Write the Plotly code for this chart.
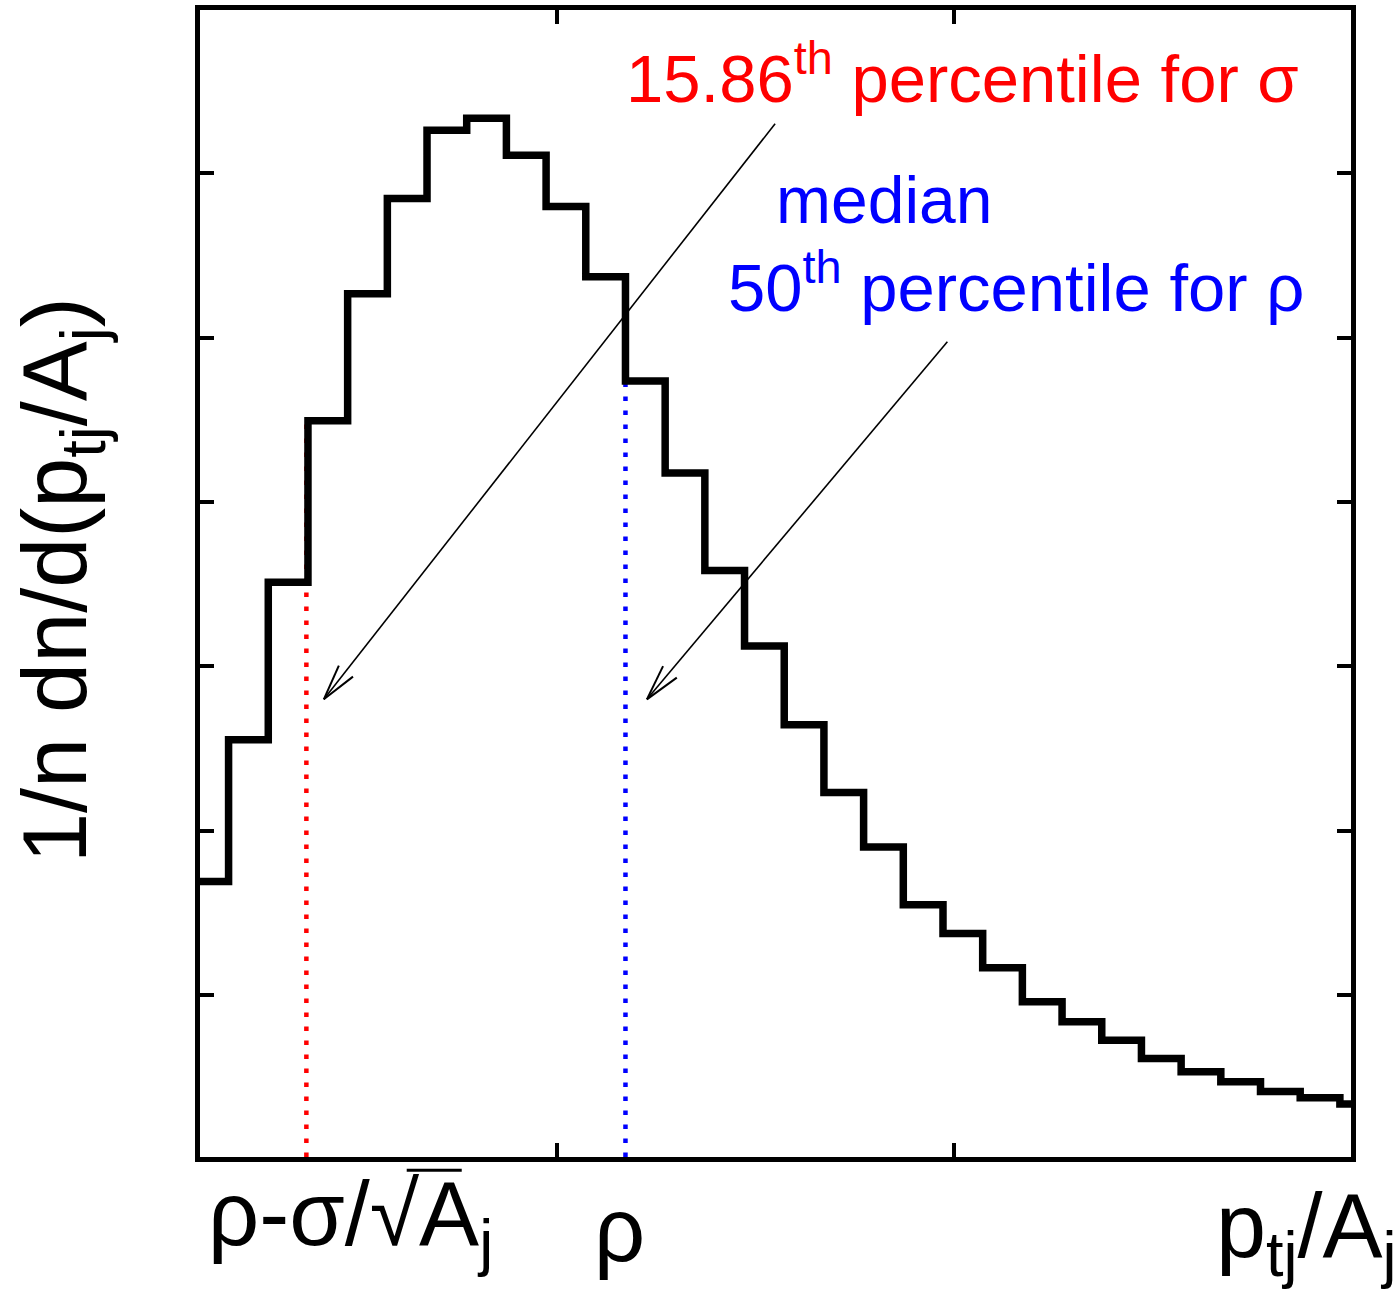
import math
import plotly.graph_objects as go

# histogram of p_tj/A_j (left bin edges, bin width 0.1) and normalised counts
bin_left = [0.072, 0.172, 0.272, 0.372, 0.472, 0.572, 0.672, 0.772, 0.872, 0.972,
            1.072, 1.172, 1.272, 1.372, 1.472, 1.572, 1.672, 1.772, 1.872, 1.972,
            2.072, 2.172, 2.272, 2.372, 2.472, 2.572, 2.672, 2.772, 2.872, 2.972]
density = [1.692, 2.554, 3.512, 4.494, 5.267, 5.847, 6.262, 6.335, 6.109, 5.798,
           5.370, 4.736, 4.176, 3.583, 3.124, 2.645, 2.233, 1.902, 1.551, 1.376,
           1.167, 0.961, 0.838, 0.726, 0.615, 0.535, 0.474, 0.414, 0.377, 0.339]
bin_width = 0.1

sigma_pos = 0.368   # 15.86th percentile
rho_pos = 1.172     # median

xtick_vals = [1, 2]
ytick_vals = [1, 2, 3, 4, 5, 6]

# arrows: (tail x, tail y, tip x, tip y)
arrows = [(1.549, 6.301, 0.412, 2.800),
          (1.983, 4.975, 1.226, 2.800)]

W, H = 1394, 1311
ML, MR, MT, MB = 200, 43, 5, 154
XR = [0.1, 3.0]
YR = [0.016, 6.993]
sx = (W - ML - MR) / (XR[1] - XR[0])
sy = (H - MT - MB) / (YR[1] - YR[0])

FONT = "Liberation Sans, Arial, sans-serif"

fig = go.Figure()

fig.add_trace(go.Scatter(
    x=[sigma_pos, sigma_pos], y=[YR[0], density[3]], mode="lines",
    line=dict(color="#ff0000", width=4.5, dash="4.5px,9.5px"), hoverinfo="skip"))
fig.add_trace(go.Scatter(
    x=[rho_pos, rho_pos], y=[YR[0], density[11]], mode="lines",
    line=dict(color="#0000ff", width=4.5, dash="4.5px,9.5px"), hoverinfo="skip"))

fig.add_trace(go.Scatter(
    x=bin_left + [bin_left[-1] + bin_width], y=density + [density[-1]],
    mode="lines", line=dict(color="black", width=7.5, shape="hv")))

shapes = []
for tx0, ty0, hx, hy in arrows:
    shapes.append(dict(type="line", xref="x", yref="y", x0=tx0, y0=ty0, x1=hx, y1=hy,
                       line=dict(color="black", width=1.6)))
    # open arrow head, built in pixel space
    dx = (tx0 - hx) * sx
    dy = (ty0 - hy) * sy
    ang = math.atan2(dy, dx)
    for da in (-0.245, 0.245):
        bx = hx + 37 * math.cos(ang + da) / sx
        by = hy + 37 * math.sin(ang + da) / sy
        shapes.append(dict(type="line", xref="x", yref="y", x0=hx, y0=hy, x1=bx, y1=by,
                           line=dict(color="black", width=2)))

# bar of the square root over A_j
shapes.append(dict(type="line", xref="paper", yref="paper", x0=0.1796, x1=0.2274,
                   y0=-0.0115, y1=-0.0115, line=dict(color="black", width=3)))

annotations = [
    dict(text="15.86<sup>th</sup> percentile for σ", x=0.3683, y=0.9444, xanchor="left",
         font=dict(color="#ff0000", size=67)),
    dict(text="median", x=0.5942, y=0.8346, xanchor="center",
         font=dict(color="#0000ff", size=66)),
    dict(text="50<sup>th</sup> percentile for ρ", x=0.457, y=0.7622, xanchor="left",
         font=dict(color="#0000ff", size=67)),
    dict(text="ρ-σ/√A<sub>j</sub>", x=0.0052, y=-0.0551, xanchor="left",
         font=dict(color="black", size=90)),
    dict(text="ρ", x=0.3649, y=-0.0638, xanchor="center",
         font=dict(color="black", size=90)),
    dict(text="p<sub>tj</sub>/A<sub>j</sub>", x=0.881, y=-0.0660, xanchor="left",
         font=dict(color="black", size=90)),
    dict(text="1/n dn/d(p<sub>tj</sub>/A<sub>j</sub>)", x=-0.1208, y=0.503, textangle=-90,
         xanchor="center", font=dict(color="black", size=90)),
]
for a in annotations:
    a.update(xref="paper", yref="paper", yanchor="middle", showarrow=False)

axis_style = dict(showline=True, linewidth=5, linecolor="black", mirror="allticks",
                  ticks="inside", ticklen=14, tickwidth=4, tickcolor="black",
                  showgrid=False, zeroline=False, showticklabels=False)

fig.update_xaxes(range=XR, tickvals=xtick_vals, **axis_style)
fig.update_yaxes(range=YR, tickvals=ytick_vals, **axis_style)

fig.update_layout(
    width=W, height=H,
    margin=dict(l=ML, r=MR, t=MT, b=MB),
    paper_bgcolor="white", plot_bgcolor="white",
    font=dict(family=FONT, color="black"),
    showlegend=False,
    shapes=shapes,
    annotations=annotations,
)

fig.write_html("out.html", config={"displayModeBar": False},
               post_script="document.body.style.margin='0px';")
